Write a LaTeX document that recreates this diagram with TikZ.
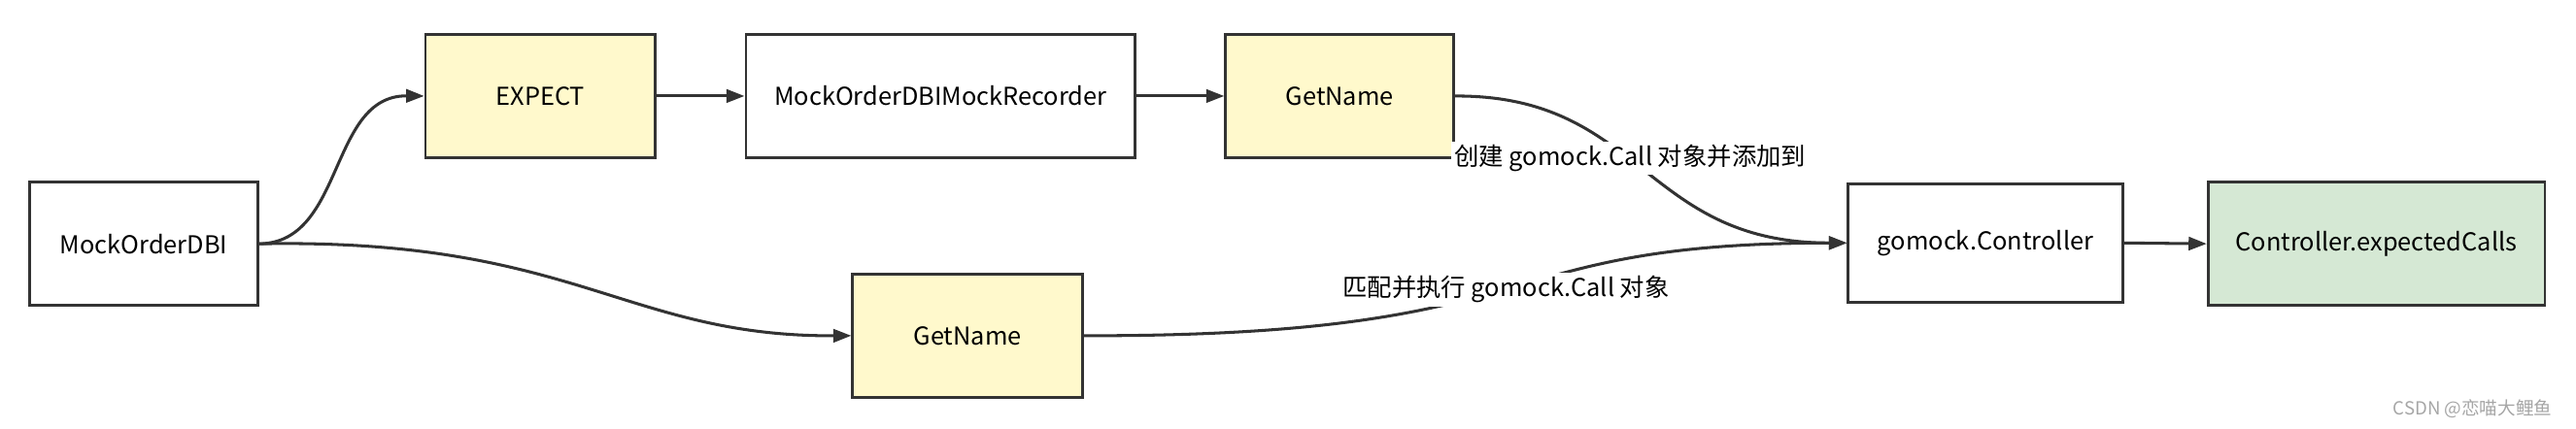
\documentclass[tikz,border=0pt]{standalone}
\usepackage{fontspec}
\setmainfont{Noto Sans CJK SC}
\usetikzlibrary{arrows.meta}
\definecolor{yel}{HTML}{FFF9CC}
\definecolor{grn}{HTML}{D5E8D4}
\definecolor{ln}{HTML}{333333}
\begin{document}
\begin{tikzpicture}[x=1pt,y=-1pt,
  box/.style={draw=ln,line width=1.6pt,minimum height=75pt,font=\fontsize{15}{18}\selectfont,inner sep=0pt},
  arr/.style={draw=ln,line width=1.8pt,-{Triangle[length=11pt,width=8pt]}},
  lbl/.style={fill=white,font=\fontsize{15}{18}\selectfont,inner sep=2pt}]
\useasboundingbox (0,0) rectangle (1568,261);
\node[box,minimum width=139pt] (mo) at (87.5,148.5) {MockOrderDBI};
\node[box,fill=yel,minimum width=140pt] (ex) at (329,58.5) {EXPECT};
\node[box,minimum width=237pt] (rec) at (572.5,58.5) {MockOrderDBIMockRecorder};
\node[box,fill=yel,minimum width=139pt] (gt) at (815.5,58.5) {GetName};
\node[box,fill=yel,minimum width=140pt] (gb) at (589,204.5) {GetName};
\node[box,minimum width=167pt,minimum height=72pt] (gc) at (1208.5,148) {gomock.Controller};
\node[box,fill=grn,minimum width=205pt] (ec) at (1446.5,148.5) {Controller.expectedCalls};
\draw[arr] (mo.east) .. controls (210,148) and (200,58) .. (ex.west);
\draw[arr] (ex.east) -- (rec.west);
\draw[arr] (rec.east) -- (gt.west);
\draw[arr] (gc.east) -- (ec.west);
\draw[arr] (mo.east) .. controls (350,145) and (380,205) .. (gb.west);
\draw[arr] (gt.east) .. controls (1000,58) and (1000,148) .. (gc.west) node[pos=0.45,lbl] (l1) {创建 gomock.Call 对象并添加到};
\draw[arr] (gb.east) .. controls (950,205) and (900,148) .. (gc.west) node[pos=0.5,lbl] (l2) {匹配并执行 gomock.Call 对象};
\node[text=gray!70,font=\fontsize{11}{13}\selectfont] (wm) at (1505,249) {CSDN @恋喵大鲤鱼};
\end{tikzpicture}
\end{document}
